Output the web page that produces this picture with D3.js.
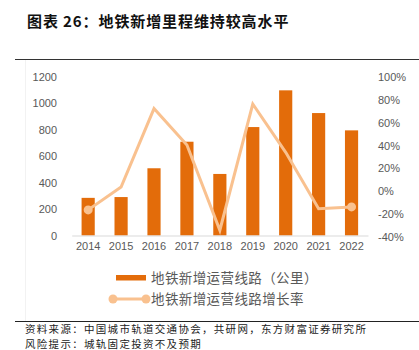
<!DOCTYPE html>
<html>
<head>
<meta charset="utf-8">
<script src="https://cdn.jsdelivr.net/npm/d3@7/dist/d3.min.js"></script>
<style>
  html, body { margin: 0; padding: 0; background: #fff; }
  svg { display: block; }
</style>
</head>
<body>
<svg id="chart" width="419" height="350"></svg>
<script>
// Annual new urban rail (metro) mileage in China and its year-over-year growth
const years = ["2014", "2015", "2016", "2017", "2018", "2019", "2020", "2021", "2022"];
const newMileage = [285, 291, 509, 710, 466, 821, 1099, 927, 796];
const growthRate = [-16.6, 3.5, 72.5, 40.5, -34.5, 76.5, 34, -15.5, -14];
const leftTicks = [0, 200, 400, 600, 800, 1000, 1200];
const rightTicks = [-40, -20, 0, 20, 40, 60, 80, 100];
const barLabel = "地铁新增运营线路（公里）";
const lineLabel = "地铁新增运营线路增长率";

const BAR = "#E36C0A";
const LINE = "#F9C18F";
const TEXT = "#595959";
const CJK = "'Noto Sans CJK SC', 'Noto Sans', sans-serif";

const svg = d3.select("#chart");

// Heading and rules
svg.append("line").attr("x1", 15).attr("x2", 419).attr("y1", 59.5).attr("y2", 59.5)
  .attr("stroke", "#333").attr("stroke-width", 1);
svg.append("line").attr("x1", 25.5).attr("x2", 25.5).attr("y1", 60).attr("y2", 321)
  .attr("stroke", "#f2f2f2").attr("stroke-width", 1);
svg.append("text").attr("x", 27).attr("y", 27)
  .attr("font-family", CJK).attr("font-weight", "bold").attr("font-size", 15)
  .attr("letter-spacing", 0.9)
  .attr("fill", "#111").text("图表 26：地铁新增里程维持较高水平");

// Scales
const x = d3.scaleBand().domain(years).range([71.7, 368]).paddingInner(0.6).paddingOuter(0.3);
const yL = d3.scaleLinear().domain([0, 1200]).range([235.5, 77]);
const yR = d3.scaleLinear().domain([-40, 100]).range([236.5, 77.3]);

// Left axis
const axL = svg.append("g").attr("transform", "translate(62,0)")
  .call(d3.axisLeft(yL).tickValues(leftTicks).tickSize(0).tickPadding(5).tickFormat(d3.format("d")));
axL.select(".domain").remove();
axL.selectAll("text").attr("font-family", "'Liberation Sans', Arial, sans-serif")
  .attr("font-size", 11).attr("fill", TEXT);

// Right axis
const axR = svg.append("g").attr("transform", "translate(374,0)")
  .call(d3.axisRight(yR).tickValues(rightTicks).tickSize(0).tickPadding(4).tickFormat(d => d + "%"));
axR.select(".domain").remove();
axR.selectAll("text").attr("font-family", "'Liberation Sans', Arial, sans-serif")
  .attr("font-size", 11).attr("fill", TEXT);

// Bars
svg.append("g").selectAll("rect").data(years).join("rect")
  .attr("x", d => x(d))
  .attr("width", x.bandwidth())
  .attr("y", (d, i) => yL(newMileage[i]))
  .attr("height", (d, i) => yL(0) - yL(newMileage[i]))
  .attr("fill", BAR);

// Category axis
const axX = svg.append("g").attr("transform", `translate(0,${yL(0)})`)
  .call(d3.axisBottom(x).tickSize(0).tickPadding(7));
axX.select(".domain").attr("stroke", "#d9d9d9").attr("stroke-width", 1.2);
axX.selectAll("text").attr("font-family", "'Liberation Sans', Arial, sans-serif")
  .attr("font-size", 11).attr("fill", TEXT);

// Growth line with end markers
const cx = d => x(d) + x.bandwidth() / 2;
const line = d3.line().x((d, i) => cx(years[i])).y(d => yR(d));
svg.append("path").datum(growthRate).attr("d", line)
  .attr("fill", "none").attr("stroke", LINE).attr("stroke-width", 3).attr("stroke-linejoin", "miter");
const ends = [0, years.length - 1];
svg.append("g").selectAll("circle").data(ends).join("circle")
  .attr("cx", i => cx(years[i])).attr("cy", i => yR(growthRate[i])).attr("r", 4.5)
  .attr("fill", LINE);

// Legend
const lg = svg.append("g");
lg.append("rect").attr("x", 116).attr("y", 275).attr("width", 30).attr("height", 5.5).attr("fill", BAR);
lg.append("text").attr("x", 151).attr("y", 282.5).attr("font-family", CJK).attr("font-size", 13.5)
  .attr("letter-spacing", 0.4).attr("fill", TEXT).text(barLabel);
lg.append("line").attr("x1", 113).attr("x2", 146).attr("y1", 299).attr("y2", 299)
  .attr("stroke", LINE).attr("stroke-width", 3);
lg.selectAll("circle").data([113, 146]).join("circle")
  .attr("cx", d => d).attr("cy", 299).attr("r", 4.5).attr("fill", LINE);
lg.append("text").attr("x", 151).attr("y", 304).attr("font-family", CJK).attr("font-size", 13.5)
  .attr("letter-spacing", 0.4).attr("fill", TEXT).text(lineLabel);

// Source and risk notes
svg.append("line").attr("x1", 15).attr("x2", 419).attr("y1", 321.5).attr("y2", 321.5)
  .attr("stroke", "#222").attr("stroke-width", 1);
svg.append("text").attr("x", 25).attr("y", 332.5).attr("font-family", CJK).attr("font-size", 10.5)
  .attr("letter-spacing", 1.3).attr("fill", "#222").text("资料来源：中国城市轨道交通协会，共研网，东方财富证券研究所");
svg.append("text").attr("x", 25).attr("y", 347.5).attr("font-family", CJK).attr("font-size", 10.5)
  .attr("letter-spacing", 1.3).attr("fill", "#222").text("风险提示：城轨固定投资不及预期");
</script>
</body>
</html>
